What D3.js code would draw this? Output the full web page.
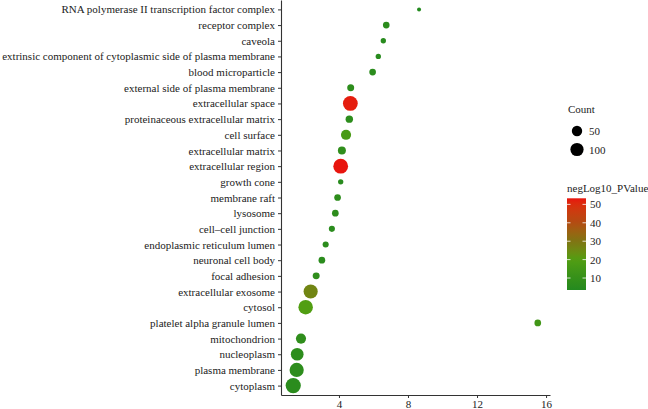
<!DOCTYPE html>
<html>
<head>
<meta charset="utf-8">
<script src="https://cdn.jsdelivr.net/npm/d3@7"></script>
<style>
  body { margin: 0; background: #fff; }
  svg text { font-family: "Liberation Serif", "DejaVu Serif", "Times New Roman", Times, serif; fill: #222; }
</style>
</head>
<body>
<div id="chart"></div>
<script>
// GO cellular component terms, top to bottom
const terms = [
  "RNA polymerase II transcription factor complex",
  "receptor complex",
  "caveola",
  "extrinsic component of cytoplasmic side of plasma membrane",
  "blood microparticle",
  "external side of plasma membrane",
  "extracellular space",
  "proteinaceous extracellular matrix",
  "cell surface",
  "extracellular matrix",
  "extracellular region",
  "growth cone",
  "membrane raft",
  "lysosome",
  "cell\u2013cell junction",
  "endoplasmic reticulum lumen",
  "neuronal cell body",
  "focal adhesion",
  "extracellular exosome",
  "cytosol",
  "platelet alpha granule lumen",
  "mitochondrion",
  "nucleoplasm",
  "plasma membrane",
  "cytoplasm"
];
const foldEnrichment = [8.64, 6.74, 6.57, 6.28, 5.95, 4.68, 4.66, 4.60, 4.41, 4.17, 4.10, 4.10, 3.92,
                        3.79, 3.59, 3.23, 3.01, 2.68, 2.36, 2.07, 15.52, 1.80, 1.58, 1.55, 1.35];
const counts = [5, 13, 7, 7, 13, 15, 135, 18, 47, 23, 135, 7, 13,
                13, 10, 10, 13, 15, 120, 128, 13, 47, 90, 121, 145];
const negLog10P = [3.5, 6, 5, 5, 6, 7, 52.5, 7, 17, 8, 53.3, 5, 7,
                   7, 6, 6, 6, 8, 26, 20, 14, 8, 7, 7, 6];

const xTicks = [4, 8, 12, 16];
const sizeBreaks = [50, 100];
const colorBreaks = [10, 20, 30, 40, 50];
// colour ramp
const rampValues = [3.5, 10, 20, 30, 40, 53.3];
const rampColors = ["#238a1f", "#35901a", "#519e12", "#7f7413", "#b34b12", "#e8150e"];

const FONT = "'Liberation Serif', 'DejaVu Serif', 'Times New Roman', serif";
const FS = 11;
const W = 648, H = 409;
const MARGIN = { TOP: 0, LEFT: 281, RIGHT: 98, BOTTOM: 14 };
const plotW = W - MARGIN.LEFT - MARGIN.RIGHT;
const plotH = H - MARGIN.TOP - MARGIN.BOTTOM;

const data = terms.map((t, i) => ({
  term: t, x: foldEnrichment[i], count: counts[i], p: negLog10P[i]
}));

const svg = d3.select("#chart").append("svg")
  .attr("width", W).attr("height", H)
  .style("font-family", FONT);

const g = svg.append("g")
  .attr("transform", `translate(${MARGIN.LEFT}, ${MARGIN.TOP})`);

// ggplot style 5% expansion
const xExt = d3.extent(foldEnrichment);
const pad = (xExt[1] - xExt[0]) * 0.05;
const x = d3.scaleLinear()
  .domain([xExt[0] - pad, xExt[1] + pad])
  .range([0, plotW]);

const y = d3.scalePoint()
  .domain(terms)
  .range([0, plotH])
  .padding(0.6);

const cExt = d3.extent(counts);
const rScale = d3.scaleSqrt().domain([0, cExt[1] - cExt[0]]).range([2, 7.6]);
const radius = c => rScale(Math.max(0, c - cExt[0]));

const pExt = d3.extent(negLog10P);
const color = d3.scaleLinear()
  .domain(rampValues)
  .range(rampColors)
  .interpolate(d3.interpolateLab)
  .clamp(true);

// axes
const xAxis = g.append("g")
  .attr("transform", `translate(0, ${plotH})`)
  .call(d3.axisBottom(x).tickValues(xTicks).tickSize(3).tickPadding(2).tickSizeOuter(0));
const yAxis = g.append("g")
  .call(d3.axisLeft(y).tickSize(3).tickPadding(3).tickSizeOuter(0));

[xAxis, yAxis].forEach(a => {
  a.attr("font-family", null);
  a.select(".domain").attr("stroke", "#333").attr("stroke-width", 1.1);
  a.selectAll(".tick line").attr("stroke", "#333");
  a.selectAll(".tick text").attr("font-size", FS).attr("fill", "#222")
    .style("font-family", FONT);
});

// points
g.selectAll("circle.pt").data(data).enter().append("circle")
  .attr("class", "pt")
  .attr("cx", d => x(d.x))
  .attr("cy", d => y(d.term))
  .attr("r", d => radius(d.count))
  .attr("fill", d => color(d.p));

// size legend
const lg = svg.append("g").attr("transform", "translate(568, 0)");
lg.append("text").attr("x", 0).attr("y", 113).attr("font-size", FS).text("Count");
const sizeRow = d3.scaleOrdinal().domain(sizeBreaks).range([131, 149.5]);
sizeBreaks.forEach(b => {
  lg.append("circle").attr("cx", 9).attr("cy", sizeRow(b)).attr("r", radius(b)).attr("fill", "#000");
  lg.append("text").attr("x", 21).attr("y", sizeRow(b) + 4).attr("font-size", FS).text(b);
});

// colour bar legend
const cb = svg.append("g").attr("transform", "translate(567, 0)");
cb.append("text").attr("x", 0).attr("y", 192).attr("font-size", FS).text("negLog10_PValue");
const barTop = 198.3, barBot = 290, barW = 19;
const cy = d3.scaleLinear().domain(pExt).range([barBot, barTop]);

const grad = svg.append("defs").append("linearGradient")
  .attr("id", "pgrad")
  .attr("x1", "0%").attr("x2", "0%")
  .attr("y1", "100%").attr("y2", "0%");
d3.range(0, 1.0001, 0.05).forEach(t => {
  grad.append("stop")
    .attr("offset", `${t * 100}%`)
    .style("stop-color", color(pExt[0] + t * (pExt[1] - pExt[0])));
});
cb.append("rect")
  .attr("x", 0).attr("y", barTop)
  .attr("width", barW).attr("height", barBot - barTop)
  .attr("fill", "url(#pgrad)");
colorBreaks.forEach(b => {
  const yy = cy(b);
  cb.append("line").attr("x1", 0).attr("x2", 3.5).attr("y1", yy).attr("y2", yy)
    .attr("stroke", "#fff").attr("stroke-width", 0.8);
  cb.append("line").attr("x1", barW - 3.5).attr("x2", barW).attr("y1", yy).attr("y2", yy)
    .attr("stroke", "#fff").attr("stroke-width", 0.8);
  cb.append("text").attr("x", barW + 4).attr("y", yy + 4).attr("font-size", FS).text(b);
});
</script>
</body>
</html>
